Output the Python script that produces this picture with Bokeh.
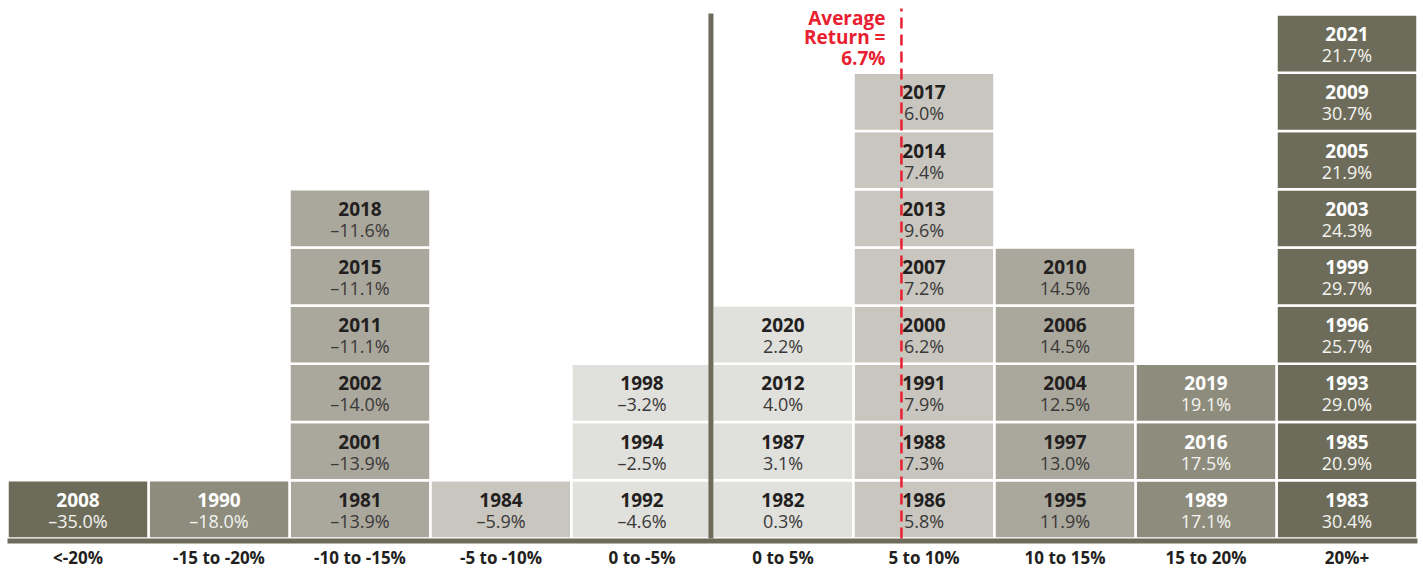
from bokeh.plotting import figure
from bokeh.models import ColumnDataSource, Range1d
from bokeh.core.properties import value
from bokeh.embed import file_html
from bokeh.resources import INLINE

# ---- data ----
categories = ["<-20%", "-15 to -20%", "-10 to -15%", "-5 to -10%", "0 to -5%",
              "0 to 5%", "5 to 10%", "10 to 15%", "15 to 20%", "20%+"]
bin_edges = [-20, -15, -10, -5, 0, 5, 10, 15, 20]  # lower edges of bins 1..9
years = [2008, 1990,
         1981, 2001, 2002, 2011, 2015, 2018,
         1984,
         1992, 1994, 1998,
         1982, 1987, 2012, 2020,
         1986, 1988, 1991, 2000, 2007, 2013, 2014, 2017,
         1995, 1997, 2004, 2006, 2010,
         1989, 2016, 2019,
         1983, 1985, 1993, 1996, 1999, 2003, 2005, 2009, 2021]
returns = [-35.0, -18.0,
           -13.9, -13.9, -14.0, -11.1, -11.1, -11.6,
           -5.9,
           -4.6, -2.5, -3.2,
           0.3, 3.1, 4.0, 2.2,
           5.8, 7.3, 7.9, 6.2, 7.2, 9.6, 7.4, 6.0,
           11.9, 13.0, 12.5, 14.5, 14.5,
           17.1, 17.5, 19.1,
           30.4, 20.9, 29.0, 25.7, 29.7, 24.3, 21.9, 30.7, 21.7]
average_return = 6.7

bin_colors = ["#6d6c5a", "#8e8c7d", "#aaa89d", "#c8c6bf", "#e0e0dc",
              "#e0e0dc", "#c8c6bf", "#aaa89d", "#8e8c7d", "#6d6c5a"]
bin_text_colors = ["white", "white", "#231f20", "#231f20", "#231f20",
                   "#231f20", "#231f20", "#231f20", "white", "white"]
bin_value_colors = ["#f4f4f0", "#f4f4f0", "#3a3838", "#3a3838", "#3a3838",
                    "#3a3838", "#3a3838", "#3a3838", "#f4f4f0", "#f4f4f0"]

FONT = value("Open Sans")


def bin_of(r):
    b = 0
    for e in bin_edges:
        if r >= e:
            b += 1
    return b


# stack blocks per bin, ordered by year
order = sorted(range(len(years)), key=lambda i: years[i])
counts = [0] * len(categories)
left, right, bottom, top, xc, yc, fill, tcol, vcol, ytxt, vtxt = ([] for _ in range(11))
for i in order:
    b = bin_of(returns[i])
    row = counts[b]
    counts[b] += 1
    left.append(b)
    right.append(b + 1)
    bottom.append(row)
    top.append(row + 1)
    xc.append(b + 0.5)
    yc.append(row + 0.5)
    fill.append(bin_colors[b])
    tcol.append(bin_text_colors[b])
    vcol.append(bin_value_colors[b])
    ytxt.append(str(years[i]))
    v = returns[i]
    vtxt.append(("–" if v < 0 else "") + f"{abs(v):.1f}%")

src = ColumnDataSource(dict(left=left, right=right, bottom=bottom, top=top,
                            x=xc, yy=[y + 0.163 for y in yc], yv=[y - 0.198 for y in yc],
                            fill=fill, tcol=tcol, vcol=vcol, year=ytxt, val=vtxt))

Y_TOP = 9.2405
p = figure(width=1423, height=569, x_range=Range1d(-0.0496, 10.0426),
           y_range=Range1d(-0.5325, Y_TOP),
           output_backend="svg", toolbar_location=None, min_border=0)
p.axis.visible = False
p.grid.visible = False
p.outline_line_color = None
p.background_fill_color = "white"
p.border_fill_color = "white"

p.quad(left="left", right="right", bottom="bottom", top="top", source=src,
       fill_color="fill", line_color="white", line_width=2.5)

p.text(x="x", y="yy", text="year", source=src, text_align="center", text_baseline="middle",
       text_font=FONT, text_font_style="bold", text_font_size="19px", text_color="tcol")
p.text(x="x", y="yv", text="val", source=src, text_align="center", text_baseline="middle",
       text_font=FONT, text_font_size="18px", text_color="vcol")

# zero divider
zero_x = sum(1 for e in bin_edges if e < 0) + 1
p.segment(x0=[zero_x - 0.011], y0=[0], x1=[zero_x - 0.011], y1=[max(counts) + 0.017],
          line_width=5, line_color="#6d6c5a")

# baseline
p.segment(x0=[0], y0=[-0.043], x1=[len(categories)], y1=[-0.043],
          line_width=5, line_color="#6d6c5a", line_cap="butt")

# average line
avg_bin = bin_of(average_return)
avg_x = avg_bin + (average_return - bin_edges[avg_bin - 1]) / 5
p.segment(x0=[avg_x], y0=[0], x1=[avg_x], y1=[9.103], line_width=2.5, line_color="#e8202f",
          line_dash="11 6")
avg_lines = ["Average", "Return =", f"{average_return}%"]
p.text(x=[avg_x] * 3, y=[8.948, 8.605, 8.261], text=avg_lines, x_offset=-16,
       text_align="right", text_baseline="middle", text_font=FONT, text_font_style="bold",
       text_font_size="19px", text_color="#e8202f")

# category labels
p.text(x=[i + 0.5 for i in range(len(categories))], y=[-0.32] * len(categories), text=categories,
       text_align="center", text_baseline="middle", text_font=FONT, text_font_style="bold",
       text_font_size="17px", text_color="#231f20")

open("out.html", "w").write(file_html(p, INLINE))
